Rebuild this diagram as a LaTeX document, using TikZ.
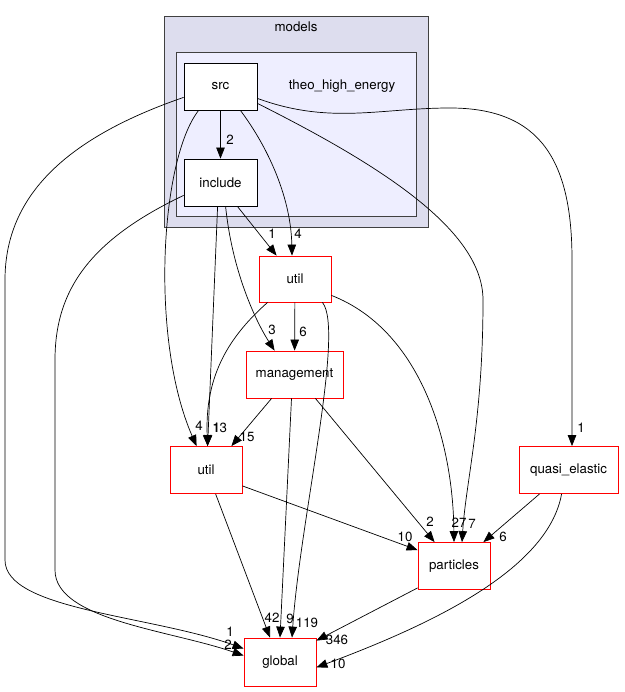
\documentclass[tikz,border=0pt]{standalone}
\usepackage{fontspec}
\setmainfont{TeX Gyre Heros}
\usetikzlibrary{arrows.meta}

\begin{document}
\begin{tikzpicture}[x=1pt, y=-1pt,
    dirbox/.style={draw=black, fill=white, line width=0.8pt, inner sep=0pt, minimum width=73pt, minimum height=47pt, font=\fontsize{13.3}{15}\selectfont},
    extdir/.style={dirbox, draw=red},
    cluster/.style={draw=black!75, line width=0.8pt},
    dep/.style={draw=black, line width=0.7pt, -{Triangle[length=11pt, width=8.5pt]}},
    num/.style={font=\fontsize{13.3}{15}\selectfont, inner sep=0pt}
  ]
  \useasboundingbox (0,0) rectangle (624,692);

  % clusters
  \draw[cluster, fill={rgb,255:red,221;green,221;blue,238}] (164,16) rectangle (428,227);
  \node[font=\fontsize{13.3}{15}\selectfont] (modelsLabel) at (296,27) {models};
  \draw[cluster, fill={rgb,255:red,238;green,238;blue,255}] (176,52) rectangle (416,216);
  \node[font=\fontsize{13.3}{15}\selectfont] (theoLabel) at (342,86) {theo\_high\_energy};

  % directories
  \node[dirbox] (src) at (220.5,86.5) {src};
  \node[dirbox] (include) at (220.5,182.5) {include};
  \node[extdir, minimum width=72pt, minimum height=46pt] (utilA) at (295,279) {util};
  \node[extdir, minimum width=97pt] (mgmt) at (294.5,374.5) {management};
  \node[extdir, minimum width=72pt] (utilB) at (206,470) {util};
  \node[extdir, minimum width=99pt] (quasi) at (568.5,470) {quasi\_elastic};
  \node[extdir, minimum width=72pt] (particles) at (454,566) {particles};
  \node[extdir, minimum width=72pt, minimum height=48pt] (global) at (280,662) {global};

  % dependencies
  \draw[dep] (src) -- (include) node[num] at (230,140) {2};
  \draw[dep] ([xshift=-17pt]src.south east) .. controls (270,150) and (291,200) .. ([xshift=-3pt]utilA.north) node[num] at (298,234) {4};
  \draw[dep] ([xshift=-20pt]include.south east) -- ([xshift=18pt]utilA.north west) node[num] at (272,234) {1};
  \draw[dep] ([xshift=42pt]include.south west) .. controls (232,270) and (255,320) .. ([xshift=29pt]mgmt.north west) node[num] at (272,330) {3};
  \draw[dep] (utilA) -- (mgmt) node[num] at (303,332) {6};
  \draw[dep] ([xshift=34pt]include.south west) -- ([xshift=38pt]utilB.north west) node[num, anchor=west] at (212,428) {13};
  \draw[dep] ([xshift=15pt]src.south west) .. controls (160,160) and (150,340) .. ([xshift=27pt]utilB.north west) node[num] at (199,426) {4};
  \draw[dep] ([xshift=9pt]utilA.south west) .. controls (225,340) and (205,380) .. ([xshift=38pt]utilB.north west) node[num, anchor=west] at (212.5,428) {1};
  \draw[dep] ([xshift=26pt]mgmt.south west) -- ([xshift=-11pt]utilB.north east) node[num] at (247,437) {15};
  \draw[dep] ([yshift=8pt]utilB.south east) -- ([yshift=-8pt]particles.north west) node[num] at (405,537) {10};
  \draw[dep] ([xshift=46pt]utilB.south west) -- ([xshift=-10pt]global.north) node[num] at (272,618) {42};
  \draw[dep] ([xshift=-3pt]mgmt.south) -- (global.north) node[num] at (290,619) {9};
  \draw[dep] ([xshift=-9pt]utilA.south east) .. controls (345,330) and (300,520) .. ([xshift=12pt]global.north) node[num] at (307,623) {119};
  \draw[dep] ([xshift=-28pt]mgmt.south east) -- ([xshift=17pt]particles.north west) node[num] at (430,522) {2};
  \draw[dep] ([yshift=7pt]utilA.south east) .. controls (420,330) and (453,440) .. (particles.north) node[num] at (459,523) {27};
  \draw[dep] ([yshift=7pt]src.south east) .. controls (380,165) and (483,230) .. (483,300) .. controls (483,420) and (466,480) .. ([xshift=8pt]particles.north) node[num] at (472,524) {7};
  \draw[dep] ([xshift=21pt]quasi.south west) -- ([xshift=-7pt]particles.north east) node[num] at (503,537) {6};
  \draw[dep] ([yshift=12pt]src.south east) .. controls (330,125) and (380,108) .. (450,108) .. controls (540,108) and (572,160) .. (572,260) -- ([xshift=3.5pt]quasi.north) node[num] at (581,428) {1};
  \draw[dep] ([yshift=2pt]particles.south west) -- ([yshift=-3pt]global.north east) node[num] at (337,640) {346};
  \draw[dep] ([xshift=43pt]quasi.south west) .. controls (548,570) and (430,625) .. ([yshift=19pt]global.south east) node[num] at (338,664) {10};
  \draw[dep] ([yshift=13pt]src.south west) .. controls (60,140) and (5,200) .. (5,280) -- (5,560) .. controls (5,610) and (150,615) .. ([yshift=-11pt]global.north west) node[num] at (230,632) {1};
  \draw[dep] ([yshift=11pt]include.south west) .. controls (90,240) and (55,290) .. (55,360) -- (55,570) .. controls (55,620) and (170,630) .. ([yshift=-18pt]global.north west) node[num] at (228,645) {2};
\end{tikzpicture}
\end{document}
